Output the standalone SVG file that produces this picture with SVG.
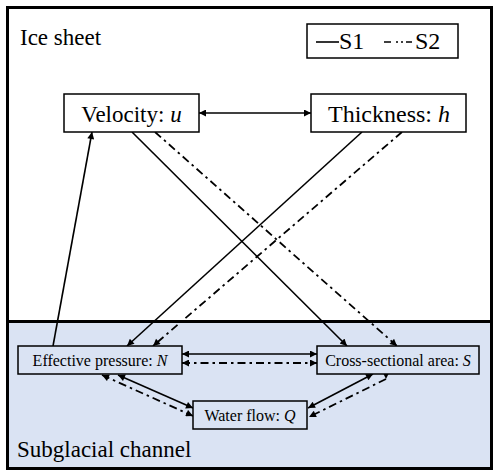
<svg xmlns="http://www.w3.org/2000/svg" width="500" height="476" viewBox="0 0 500 476">
<defs>
<style>
.box{fill:#fff;stroke:#000;stroke-width:1.5}
.boxb{fill:#dae3f3;stroke:#000;stroke-width:1.5}
.s{stroke:#000;stroke-width:1.6;fill:none}
.d{stroke:#000;stroke-width:1.8;fill:none;stroke-dasharray:8 4 2.5 4}
.a{marker-end:url(#ah)}
.aa{marker-start:url(#ah);marker-end:url(#ah)}
</style>
<marker id="ah" viewBox="0 0 10 10" refX="10" refY="5" markerWidth="9" markerHeight="7" markerUnits="userSpaceOnUse" orient="auto-start-reverse">
<path d="M0,0 L10,5 L0,10 Z" fill="#000"/>
</marker>
<marker id="ahd" viewBox="0 0 10 10" refX="10" refY="5" markerWidth="9" markerHeight="7" markerUnits="userSpaceOnUse" orient="90">
<path d="M0,0 L10,5 L0,10 Z" fill="#000"/>
</marker>
</defs>
<rect x="7.5" y="7.5" width="484" height="461" fill="#fff"/>
<rect x="7.5" y="321.5" width="484" height="147" fill="#dae3f3"/>
<rect x="7.5" y="7.5" width="484" height="461" fill="none" stroke="#000" stroke-width="3"/>
<line x1="7.5" y1="321.5" x2="491.5" y2="321.5" stroke="#000" stroke-width="3"/>
<g font-family="Liberation Serif, Tinos, Times New Roman, Times, serif" fill="#000">
<text x="20" y="45" font-size="23">Ice sheet</text>
<text x="17" y="457" font-size="23">Subglacial channel</text>
<g id="legend">
<rect x="307" y="24" width="151" height="34" class="box"/>
<line x1="316" y1="42" x2="339" y2="42" class="s"/>
<text x="339" y="49" font-size="24">S1</text>
<line x1="384" y1="42" x2="412" y2="42" class="s" style="stroke-dasharray:7 5 2 3 2 3 6"/>
<text x="415" y="49" font-size="24">S2</text>
</g>
<g id="connectors">
<line x1="199" y1="113" x2="311" y2="113" class="s aa"/>
<line x1="132" y1="132" x2="347" y2="346" class="s a"/>
<line x1="155" y1="132" x2="397" y2="346" class="d a"/>
<line x1="362" y1="132" x2="127" y2="346" class="s a"/>
<line x1="402" y1="132" x2="153" y2="346" class="d a"/>
<line x1="53" y1="346" x2="92" y2="132" class="s a"/>
<line x1="182" y1="354" x2="317" y2="354" class="s aa"/>
<line x1="182" y1="363" x2="317" y2="363" class="d aa"/>
<line x1="118" y1="375" x2="193" y2="408" class="s aa"/>
<line x1="102" y1="375" x2="193" y2="416" class="d aa"/>
<line x1="373" y1="374" x2="308" y2="408" class="s aa"/>
<line x1="386" y1="379" x2="309" y2="417" class="d" marker-start="url(#ahd)" marker-end="url(#ah)"/>
</g>
<g id="velocity">
<rect x="64" y="94" width="135" height="38" class="box"/>
<text x="131.5" y="122" font-size="23" text-anchor="middle">Velocity: <tspan font-style="italic">u</tspan></text>
</g>
<g id="thickness">
<rect x="311" y="94" width="155" height="38" class="box"/>
<text x="389" y="122" font-size="24" text-anchor="middle">Thickness: <tspan font-style="italic">h</tspan></text>
</g>
<g id="effective-pressure">
<rect x="18" y="346" width="164" height="28" class="boxb"/>
<text x="100" y="366" font-size="16" text-anchor="middle">Effective pressure: <tspan font-style="italic">N</tspan></text>
</g>
<g id="cross-section">
<rect x="317" y="346" width="162" height="28" class="boxb"/>
<text x="398" y="366" font-size="16" text-anchor="middle">Cross-sectional area: <tspan font-style="italic">S</tspan></text>
</g>
<g id="water-flow">
<rect x="193" y="401" width="114" height="28" class="boxb"/>
<text x="250" y="421" font-size="16" text-anchor="middle">Water flow: <tspan font-style="italic">Q</tspan></text>
</g>
</g>
</svg>
